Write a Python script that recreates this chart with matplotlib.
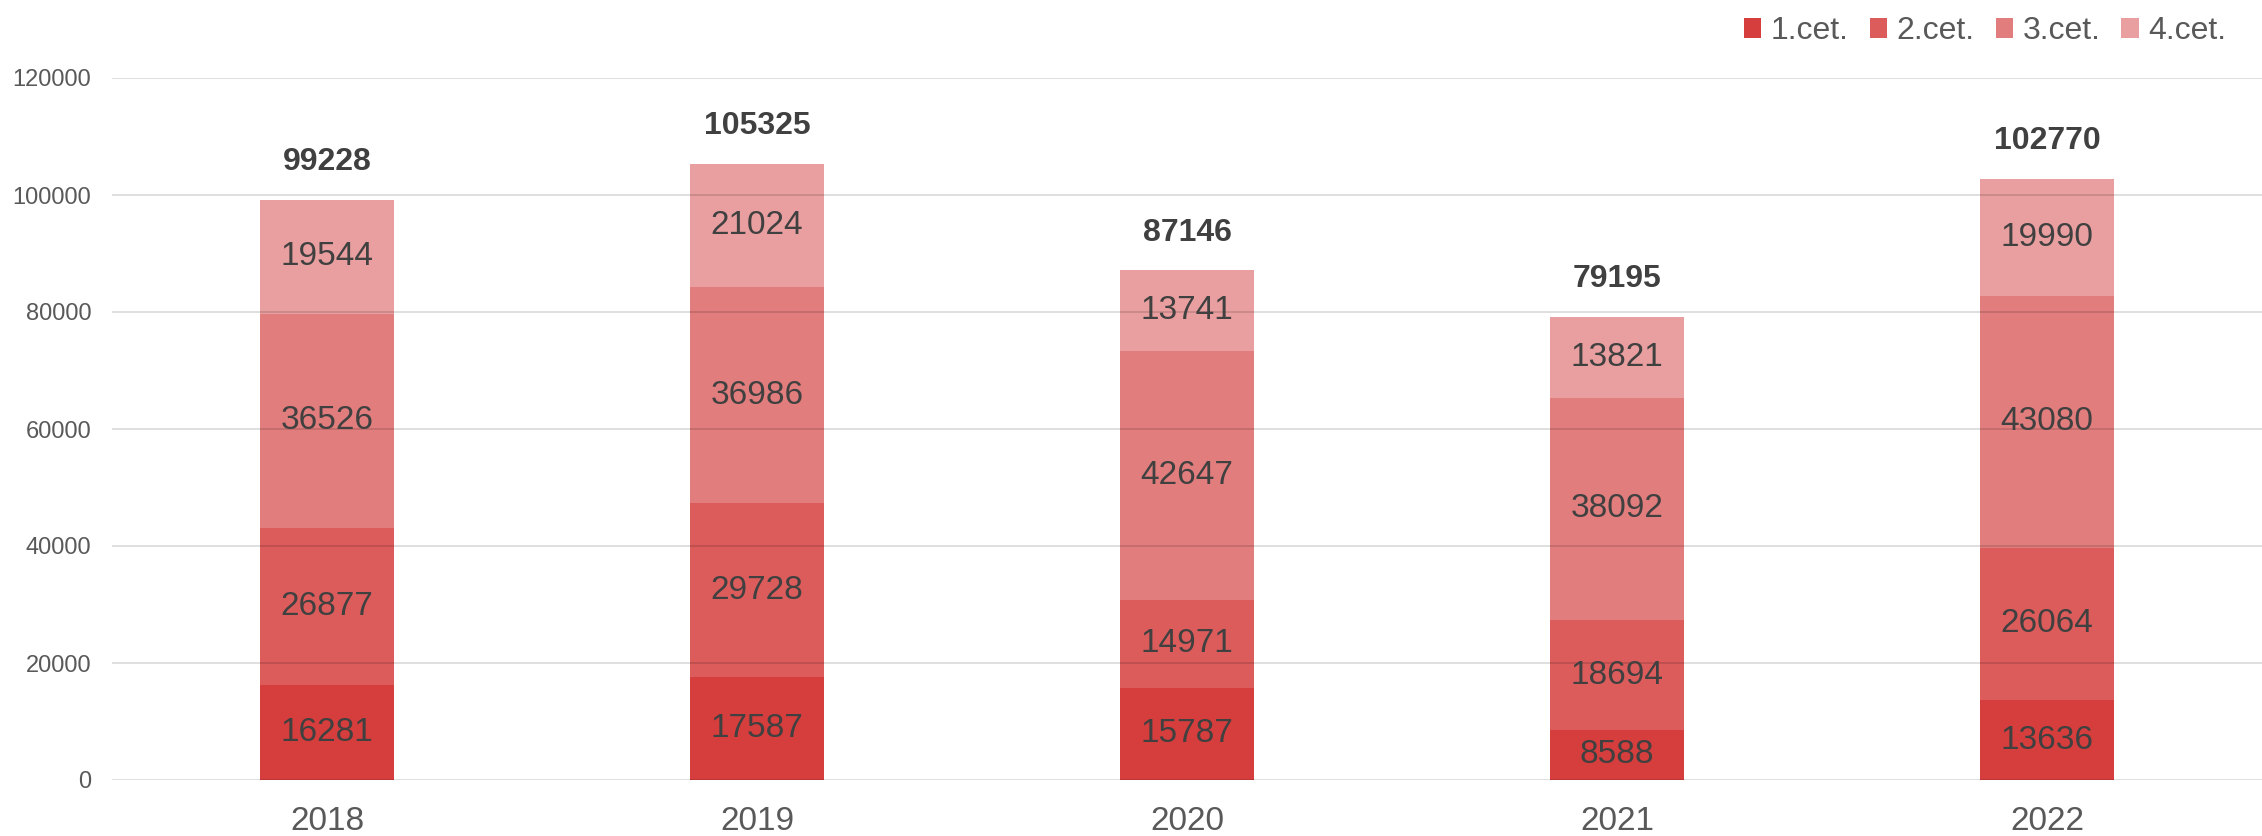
import numpy as np
import matplotlib.pyplot as plt
from matplotlib.patches import Patch

plt.rcParams['font.family'] = ['Liberation Sans', 'DejaVu Sans']

years = ['2018', '2019', '2020', '2021', '2022']
q1 = [16281, 17587, 15787, 8588, 13636]
q2 = [26877, 29728, 14971, 18694, 26064]
q3 = [36526, 36986, 42647, 38092, 43080]
q4 = [19544, 21024, 13741, 13821, 19990]
totals = [99228, 105325, 87146, 79195, 102770]
series_names = ['1.cet.', '2.cet.', '3.cet.', '4.cet.']

colors = ['#D63D3D', '#DC5C5C', '#E27D7D', '#E99F9F']

fig = plt.figure(figsize=(22.62, 8.36), dpi=100)
ax = fig.add_axes([112 / 2262, 56 / 836, 1 - 112 / 2262, 702 / 836])

x = np.arange(len(years))
bottom = np.zeros(len(years))
for vals, col in zip([q1, q2, q3, q4], colors):
    bars = ax.bar(x, vals, 0.312, bottom=bottom, color=col, zorder=2)
    ax.bar_label(bars, labels=[str(v) for v in vals], label_type='center',
                 fontsize=24, color='#404040', zorder=4)
    bottom += np.array(vals)

for xi, t in zip(x, totals):
    ax.annotate(str(t), (xi, t), xytext=(0, 27), textcoords='offset points',
                ha='center', va='center', fontsize=23, fontweight='bold',
                color='#404040')

ax.set_xlim(-0.5, 4.5)
ax.set_ylim(0, 120000)
ax.set_yticks(np.arange(0, 120001, 20000))
ax.set_xticks(x)
ax.set_xticklabels(years)
ax.yaxis.grid(True, color='black', alpha=0.15, linewidth=1.2, zorder=3)
ax.set_axisbelow(False)
for s in ax.spines.values():
    s.set_visible(False)
ax.tick_params(axis='y', length=0, labelsize=17, labelcolor='#595959', pad=15)
ax.tick_params(axis='x', length=0, labelsize=24, labelcolor='#595959', pad=19)

handles = [Patch(facecolor=c) for c in colors]
fig.legend(handles, series_names, loc='upper right', ncol=4, frameon=False,
           bbox_to_anchor=(0.997, 1.015), fontsize=23, labelcolor='#595959',
           handlelength=0.55, handleheight=0.55, handletextpad=0.3,
           columnspacing=0.65)

fig.savefig('out.png', dpi=100)
